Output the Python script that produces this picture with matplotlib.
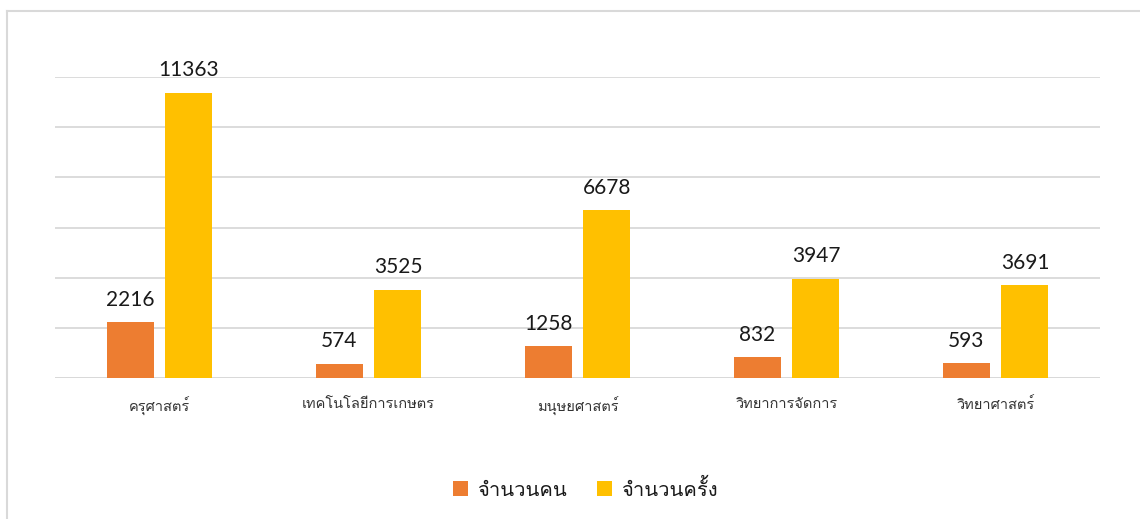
import matplotlib
matplotlib.use("Agg")
import matplotlib.pyplot as plt
import numpy as np
from matplotlib import font_manager
from fontTools.ttLib import TTFont

categories = ["ครุศาสตร์", "เทคโนโลยีการเกษตร", "มนุษยศาสตร์", "วิทยาการจัดการ", "วิทยาศาสตร์"]
people = [2216, 574, 1258, 832, 593]
visits = [11363, 3525, 6678, 3947, 3691]
series_names = ["จำนวนคน", "จำนวนครั้ง"]

# find an installed family that has Thai glyphs
thai_family = None
for f in font_manager.fontManager.ttflist:
    try:
        tt = TTFont(f.fname, fontNumber=0, lazy=True)
        cmap = tt.getBestCmap()
        if cmap and 0x0E04 in cmap and 0x0E33 in cmap:
            thai_family = f.name
            break
    except Exception:
        continue

families = ["Lato", "DejaVu Sans"]
if thai_family:
    families.append(thai_family)
plt.rcParams["font.family"] = families
thai_fams = ([thai_family] if thai_family else []) + ["DejaVu Sans"]

fig = plt.figure(figsize=(11.4, 5.19), dpi=100)
ax = fig.add_axes([55 / 1140, 1 - 378 / 519, 1045 / 1140, 301 / 519])

x = np.arange(len(categories))
w = 0.225
off = 0.141
b1 = ax.bar(x - off, people, w, color="#ED7D31", zorder=3)
b2 = ax.bar(x + off, visits, w, color="#FFC000", zorder=3)

for bars, vals in ((b1, people), (b2, visits)):
    for r, v in zip(bars, vals):
        ax.annotate(str(v), (r.get_x() + r.get_width() / 2, v), xytext=(0, 9),
                    textcoords="offset points", ha="center", va="bottom",
                    fontsize=15, color="#1a1a1a")

ax.set_xlim(-0.5, len(categories) - 0.5)
ax.set_ylim(0, 12000)
ax.set_yticks(np.arange(0, 12001, 2000))
ax.yaxis.grid(True, color="#D9D9D9", linewidth=1.3, zorder=0)
ax.tick_params(left=False, labelleft=False, bottom=False)
for s in ax.spines.values():
    s.set_visible(False)
ax.axhline(0, color="#D9D9D9", linewidth=1.3, zorder=1)
ax.set_xticks(x)
ax.set_xticklabels(categories, fontsize=10.5, family=thai_fams, color="#333333")
ax.tick_params(axis="x", pad=10)

leg = fig.legend([b1, b2], series_names, loc="center", bbox_to_anchor=(585 / 1140, 1 - 489 / 519),
                 ncol=2, frameon=False, handlelength=0.75, handleheight=0.75,
                 columnspacing=1.5, handletextpad=0.45,
                 prop={"family": thai_fams, "size": 14.5, "weight": "normal"})
for t in leg.get_texts():
    t.set_color("#1a1a1a")

# outer chart frame
fig.add_artist(plt.Line2D([7 / 1140, 1], [1 - 11 / 519, 1 - 11 / 519], color="#D9D9D9", linewidth=1.5))
fig.add_artist(plt.Line2D([7 / 1140, 7 / 1140], [0, 1 - 11 / 519], color="#D9D9D9", linewidth=1.5))

fig.savefig("out.png", dpi=100)
